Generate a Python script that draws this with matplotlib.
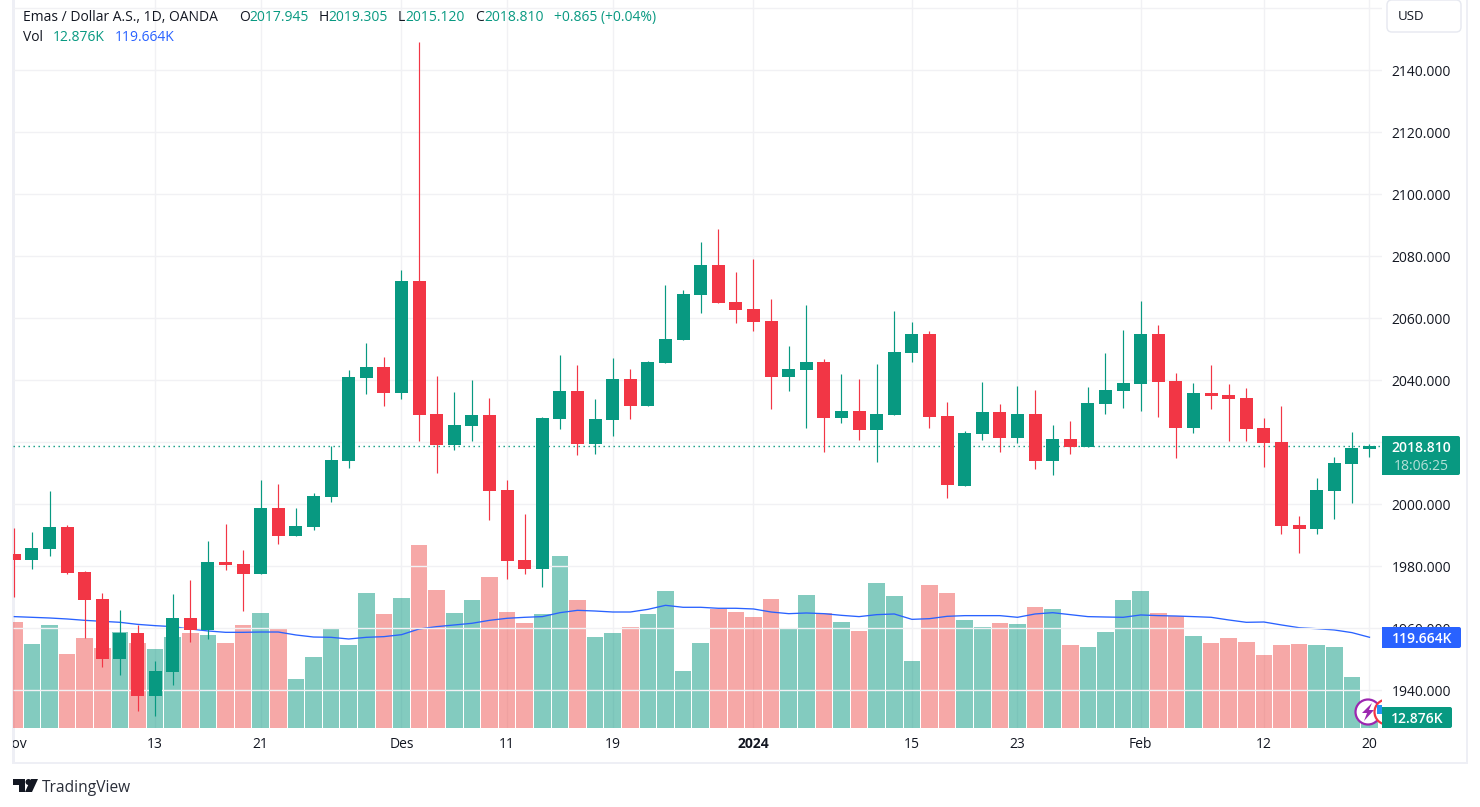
import matplotlib

matplotlib.use("Agg")

import matplotlib.pyplot as plt
from matplotlib.patches import Circle, FancyBboxPatch, Polygon, Rectangle

opens = [1984.0, 1982.0, 1985.6, 1992.7, 1978.2, 1969.5, 1950.1, 1958.5, 1938.2, 1945.9, 1963.3, 1959.5, 1981.4,
         1980.8, 1977.5, 1998.8, 1989.8, 1992.7, 2002.4, 2014.0, 2040.8, 2044.3, 2035.9, 2072.0, 2029.1, 2019.1,
         2025.3, 2028.8, 2004.6, 1982.0, 1979.1, 2027.5, 2036.6, 2019.5, 2027.2, 2040.4, 2031.7, 2045.6, 2053.0,
         2067.5, 2077.2, 2065.3, 2063.0, 2059.1, 2041.1, 2043.3, 2045.9, 2027.8, 2030.1, 2024.0, 2028.8, 2048.8,
         2054.9, 2028.5, 2005.9, 2022.7, 2029.8, 2021.4, 2029.1, 2014.0, 2021.1, 2018.5, 2032.4, 2036.6, 2038.8,
         2054.9, 2039.8, 2024.6, 2035.9, 2035.3, 2034.3, 2024.6, 2020.1, 1993.3, 1992.0, 2004.3, 2013.0, 2017.945]
highs = [1992.4, 1991.1, 2004.3, 1993.3, 1978.5, 1971.4, 1965.9, 1961.1, 1949.5, 1971.1, 1975.6, 1988.2, 1993.7,
         1985.3, 2007.8, 2006.6, 1998.8, 2003.7, 2018.7, 2043.3, 2052.0, 2047.5, 2075.6, 2149.1, 2041.4, 2036.2,
         2040.1, 2034.3, 2007.8, 1996.9, 2028.2, 2048.2, 2045.0, 2034.0, 2047.2, 2043.7, 2046.2, 2070.8, 2069.1,
         2084.6, 2088.8, 2074.9, 2079.1, 2066.2, 2051.1, 2064.3, 2046.9, 2042.0, 2040.4, 2045.3, 2062.4, 2058.8,
         2055.9, 2033.0, 2023.7, 2039.5, 2032.4, 2038.2, 2036.9, 2025.6, 2026.9, 2037.8, 2048.8, 2056.2, 2065.6,
         2057.8, 2042.4, 2039.1, 2044.9, 2038.8, 2037.5, 2027.8, 2031.7, 1996.2, 2008.5, 2015.3, 2023.3, 2019.305]
lows = [1970.2, 1979.1, 1983.3, 1977.5, 1956.9, 1947.5, 1945.0, 1933.3, 1931.7, 1941.7, 1955.6, 1956.6, 1978.8,
        1965.6, 1977.5, 1987.2, 1989.8, 1991.7, 2000.8, 2011.8, 2035.6, 2031.7, 2034.0, 2020.4, 2010.1, 2017.5,
        2020.4, 1994.9, 1975.9, 1977.5, 1973.3, 2024.3, 2015.9, 2016.2, 2022.0, 2027.5, 2031.7, 2045.6, 2053.0,
        2061.7, 2064.9, 2058.5, 2055.9, 2030.8, 2036.6, 2024.6, 2016.9, 2026.2, 2020.8, 2013.7, 2028.8, 2045.9,
        2024.6, 2002.0, 2005.9, 2020.8, 2016.9, 2019.8, 2011.4, 2009.5, 2016.2, 2018.5, 2029.1, 2031.1, 2030.1,
        2028.2, 2014.9, 2023.0, 2030.8, 2020.4, 2020.4, 2012.0, 1990.4, 1984.3, 1990.4, 1995.3, 2000.4, 2015.12]
closes = [1982.0, 1985.9, 1992.7, 1977.8, 1969.1, 1950.1, 1958.5, 1938.2, 1946.2, 1963.3, 1959.5, 1981.4, 1980.4,
          1977.5, 1998.8, 1989.8, 1993.0, 2002.7, 2014.3, 2041.1, 2044.3, 2035.9, 2072.0, 2028.8, 2019.1, 2025.6,
          2028.8, 2004.3, 1981.7, 1979.1, 2027.9, 2036.6, 2019.5, 2027.5, 2040.4, 2031.7, 2045.9, 2053.3, 2067.8,
          2077.2, 2064.9, 2062.7, 2058.8, 2041.1, 2043.7, 2045.9, 2027.8, 2030.1, 2024.0, 2029.1, 2049.1, 2054.9,
          2028.2, 2006.2, 2023.0, 2029.8, 2021.4, 2029.1, 2014.0, 2021.1, 2018.5, 2032.7, 2036.9, 2039.1, 2054.9,
          2039.5, 2024.6, 2035.9, 2034.9, 2034.0, 2024.3, 2019.8, 1993.0, 1992.0, 2004.6, 2013.3, 2018.2, 2018.81]
volumes = [139.8, 110.8, 135.9, 97.6, 118.7, 105.5, 126.6, 112.1, 104.2, 120.0, 125.3, 122.7, 112.1, 135.9, 151.7,
           130.6, 64.6, 93.7, 130.6, 109.5, 178.1, 150.4, 171.5, 241.4, 182.0, 151.7, 168.8, 199.2, 153.0, 138.5,
           150.4, 226.9, 168.8, 120.0, 125.3, 133.2, 150.4, 180.7, 75.2, 112.1, 157.0, 153.0, 146.4, 170.2, 130.6,
           175.4, 151.7, 139.8, 128.0, 191.3, 174.1, 88.4, 188.6, 178.1, 142.5, 133.2, 138.5, 137.2, 159.6, 157.0,
           109.5, 106.8, 126.6, 168.8, 180.7, 151.7, 147.7, 121.4, 112.1, 118.7, 113.4, 96.3, 109.5, 110.8, 109.5,
           106.8, 67.3, 12.876]
volume_ma = [146.9, 146.0, 145.1, 143.8, 142.0, 140.7, 139.4, 136.7, 135.0, 133.7, 130.6, 128.0, 126.2, 126.2,
             126.6, 126.6, 122.7, 120.0, 119.6, 117.4, 119.6, 120.5, 123.1, 130.6, 133.7, 135.9, 138.1, 142.0,
             144.7, 146.0, 146.9, 152.1, 155.2, 154.3, 153.0, 153.0, 156.5, 161.8, 159.2, 159.2, 157.9, 157.9,
             157.0, 153.0, 150.8, 151.7, 150.8, 148.6, 146.9, 149.5, 150.4, 143.3, 144.2, 147.3, 148.2, 148.2,
             148.2, 146.0, 150.4, 152.1, 149.5, 146.9, 146.4, 146.0, 149.1, 148.2, 147.7, 146.9, 146.0, 142.5,
             139.4, 139.8, 135.9, 132.3, 131.0, 129.3, 125.8, 119.664]

price_ticks = [1940, 1960, 1980, 2000, 2020, 2040, 2060, 2080, 2100, 2120, 2140, 2160]
hidden_price_labels = [1940, 2020, 2160]
time_tick_pos = [8, 14, 22, 28, 34, 42, 51, 57, 64, 71, 77]
time_tick_labels = ["13", "21", "Des", "11", "19", "2024", "15", "23", "Feb", "12", "20"]
last_price = 2018.81

GREEN = "#089981"
RED = "#f23645"
VOL_RED = "#ef5350"
BLUE = "#2962ff"
TEXT = "#131722"
GRID = "#f1f1f4"
BORDER = "#eeeff5"
FONT = "Open Sans"
SIZE = 10.0

W, H = 1480, 807
plt.rcParams["font.family"] = FONT


def fig_rect(left, top, right, bottom):
    return [left / W, 1 - bottom / H, (right - left) / W, (bottom - top) / H]


fig = plt.figure(figsize=(W / 100, H / 100), dpi=100, facecolor="white")

xs = list(range(len(closes)))
colors = [GREEN if c >= o else RED for o, c in zip(opens, closes)]
vol_colors = [GREEN if c >= o else VOL_RED for o, c in zip(opens, closes)]
xlim = ((13 - 14.3) / 17.6, (1382 - 14.3) / 17.6)

# frame goes under everything, the first candle overlaps it
frame = fig.add_axes([0, 0, 1, 1], zorder=0)
frame.set_xlim(0, W)
frame.set_ylim(H, 0)
frame.axis("off")
frame.add_patch(Rectangle((12, -2), 3, 765, color=BORDER, lw=0))
frame.add_patch(Rectangle((1466, -2), 2, 765, color=BORDER, lw=0))
frame.add_patch(Rectangle((12, 762), 1456, 2, color=BORDER, lw=0))

# volume pane sits under the candles and carries the grid
ax_vol = fig.add_axes(fig_rect(13, 0, 1382, 728), zorder=1)
ax_vol.patch.set_alpha(0)
ax_vol.bar(xs, volumes, width=0.95, color=vol_colors, alpha=0.5, linewidth=0, zorder=2)
ax_vol.plot(xs, volume_ma, color=BLUE, lw=0.95, zorder=3)
ax_vol.set_xlim(xlim)
ax_vol.set_ylim(0, 960.2)
ax_vol.set_xticks(time_tick_pos)
ax_vol.set_yticks([])
ax_vol.grid(axis="x", color=GRID, lw=1.0, zorder=1)
ax_vol.tick_params(length=0, labelbottom=False)
for side in ax_vol.spines.values():
    side.set_visible(False)

ax = fig.add_axes(fig_rect(13, 0, 1382, 728), zorder=2)
ax.patch.set_alpha(0)
ax.set_xlim(xlim)
ax.set_ylim(1927.83, 2162.68)
ax.hlines(price_ticks, xlim[0], xlim[1], color=GRID, lw=1.0, zorder=0)
ax.vlines(xs, lows, highs, color=colors, lw=0.85, zorder=2)
ax.bar(xs, [abs(c - o) for o, c in zip(opens, closes)], bottom=[min(o, c) for o, c in zip(opens, closes)],
       width=0.74, color=colors, linewidth=0, zorder=3)
ax.plot(xlim, [last_price, last_price], color=GREEN, lw=1.0, ls=(0, (1, 2.6)), zorder=1)
ax.yaxis.tick_right()
ax.set_yticks(price_ticks)
ax.set_yticklabels(["" if p in hidden_price_labels else f"{p:.3f}" for p in price_ticks], fontsize=SIZE, color=TEXT)
ax.set_xticks([])
ax.tick_params(axis="y", length=0, pad=7)
for side in ax.spines.values():
    side.set_visible(False)

# time scale strip
ax_time = fig.add_axes(fig_rect(13, 728, 1382, 762), zorder=2)
ax_time.patch.set_alpha(0)
ax_time.set_xlim(xlim)
ax_time.set_ylim(0, 1)
ax_time.set_yticks([])
ax_time.set_xticks(time_tick_pos)
ax_time.set_xticklabels(time_tick_labels, fontsize=SIZE, color=TEXT)
ax_time.tick_params(axis="x", length=0, direction="in", pad=-18)
ax_time.get_xticklabels()[5].set_fontweight("bold")
ax_time.text(0, 0.5, "Nov", ha="center", va="center", fontsize=SIZE, color=TEXT, clip_on=True)
for side in ax_time.spines.values():
    side.set_visible(False)

# pixel overlay for badges, header and logo
px = fig.add_axes([0, 0, 1, 1], zorder=5)
px.set_xlim(0, W)
px.set_ylim(H, 0)
px.axis("off")


def badge(left, top, right, bottom, color):
    px.add_patch(Rectangle((left, top), right - left - 3, bottom - top, color=color, lw=0))
    px.add_patch(FancyBboxPatch((right - 8, top), 8, bottom - top, boxstyle="round,pad=0,rounding_size=2",
                                color=color, lw=0))


# news icons at the last bar
px.add_patch(Circle((1368, 712), 12.5, facecolor="white", edgecolor="#9c27b0", lw=1.6))
px.add_patch(Polygon([(1372, 703), (1362, 713), (1367, 713), (1364, 721), (1374, 710), (1369, 710)],
                     color="#9c27b0", lw=0))
px.add_patch(Circle((1387, 712), 12.5, facecolor="white", edgecolor=RED, lw=1.6))
px.add_patch(Rectangle((1377, 705), 5, 9, color="#2196f3", lw=0))
px.add_patch(Rectangle((1382, 695), 84, 33, color="white", lw=0))
px.text(1392, 690.3, "1940.000", fontsize=SIZE, color=TEXT, va="center_baseline")

badge(1382, 436, 1460, 475, GREEN)
px.text(1421, 447, "2018.810", color="white", fontsize=SIZE, ha="center", va="center_baseline", fontweight="semibold")
px.text(1421, 464.5, "18:06:25", color="#b5e0d8", fontsize=SIZE, ha="center", va="center_baseline")
badge(1382, 627, 1461, 648, BLUE)
px.text(1422, 637.8, "119.664K", color="white", fontsize=SIZE, ha="center", va="center_baseline",
        fontweight="semibold")
badge(1382, 707, 1452, 728, GREEN)
px.text(1417, 717.8, "12.876K", color="white", fontsize=SIZE, ha="center", va="center_baseline",
        fontweight="semibold")

px.add_patch(FancyBboxPatch((1387, 0), 74, 32, boxstyle="round,pad=0,rounding_size=5",
                            facecolor="white", edgecolor="#e6e8f0", lw=1))
px.text(1398, 15.5, "USD", color=TEXT, fontsize=SIZE * 0.95, va="center_baseline")

header = [(23, "Emas / Dollar A.S., 1D, OANDA", TEXT), (239, "O", TEXT), (249, "2017.945", GREEN), (319, "H", TEXT),
          (328, "2019.305", GREEN), (398, "L", TEXT), (405, "2015.120", GREEN), (475, "C", TEXT),
          (484, "2018.810", GREEN), (554, "+0.865 (+0.04%)", GREEN)]
for x0, label, col in header:
    px.text(x0, 15.5, label, color=col, fontsize=SIZE, va="center_baseline")
px.text(23, 35.5, "Vol", color=TEXT, fontsize=SIZE, va="center_baseline")
px.text(53, 35.5, "12.876K", color=GREEN, fontsize=SIZE, va="center_baseline")
px.text(115, 35.5, "119.664K", color=BLUE, fontsize=SIZE, va="center_baseline")

# TradingView mark
px.add_patch(Polygon([(13, 779), (25, 779), (25, 792), (19, 792), (19, 785), (13, 785)], color=TEXT, lw=0))
px.add_patch(Circle((28.5, 782), 3, color=TEXT, lw=0))
px.add_patch(Polygon([(31, 779), (38, 779), (32, 792), (25, 792)], color=TEXT, lw=0))
px.text(42, 785.5, "TradingView", color="#2a2e39", fontsize=11.2, va="center_baseline")

fig.savefig("out.png", dpi=100)
